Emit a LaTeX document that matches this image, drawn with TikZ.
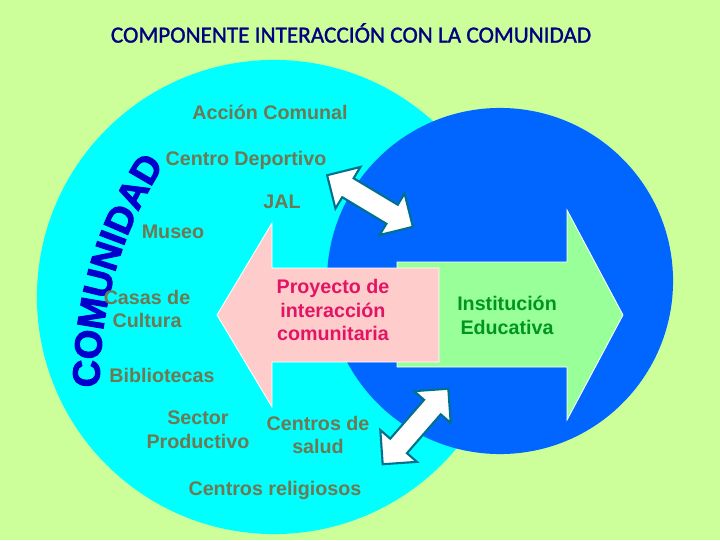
\documentclass[tikz,border=0pt]{standalone}
\usepackage{fontspec}
\setmainfont{Liberation Sans}
\newfontfamily\titlefont[FakeBold=1.2]{Carlito}
\newfontfamily\comfont[FakeBold=2.5]{Liberation Sans Bold}
\usetikzlibrary{positioning,shapes.arrows,decorations.text}
\definecolor{bgGreen}{RGB}{204,255,153}
\definecolor{commCyan}{RGB}{0,255,255}
\definecolor{schoolBlue}{RGB}{0,102,255}
\definecolor{instGreen}{RGB}{153,255,153}
\definecolor{projPink}{RGB}{255,204,204}
\definecolor{itemText}{RGB}{110,120,82}
\definecolor{projText}{RGB}{228,20,100}
\definecolor{instText}{RGB}{0,150,30}
\definecolor{comBlue}{RGB}{0,0,204}
\definecolor{titleBlue}{RGB}{0,0,128}
\definecolor{linkEdge}{RGB}{0,112,140}
\def\ux{0.025cm}
\tikzstyle{item}=[text=itemText,font=\bfseries\fontsize{14}{17}\selectfont,align=center,inner sep=1pt]
\tikzstyle{link}=[double arrow,draw=linkEdge,fill=white,line width=1.5pt,
  minimum height=2.5cm,text height=0.25cm,text depth=0.25cm,
  double arrow head extend=0.33cm,inner sep=0pt]
\newcommand{\newItem}[3]{\node[item](#1) at (#2){#3};}
\newcommand{\newLink}[3]{\node[link,rotate=#3](#1) at (#2){};}

\begin{document}
\begin{tikzpicture}[x=\ux,y=\ux,
  arrowbody/.style={draw=white,line width=0.6pt}
  ]
  \fill[bgGreen] (0,0) rectangle (720,540);
  \useasboundingbox (0,0) rectangle (720,540);
  % the two circles
  \node[circle,fill=commCyan,inner sep=0pt,minimum size=11.85cm](comunidad) at (274,243){};
  \node[circle,fill=schoolBlue,inner sep=0pt,minimum size=8.65cm](colegio) at (500,259){};
  % big arrows
  \filldraw[arrowbody,fill=instGreen] (397,173) -- (567,173) -- (567,120) -- (623,225)
    -- (567,330) -- (567,278) -- (397,278) -- cycle;
  \filldraw[arrowbody,fill=projPink] (439,178) -- (439,272) -- (272,272) -- (272,317)
    -- (217,225) -- (272,133) -- (272,178) -- cycle;
  \newLink{topLink}{370,339}{-31}
  \newLink{lowLink}{415.5,113.5}{49}
  % texts
  \node[text=titleBlue,font=\titlefont\fontsize{16.5}{20}\selectfont](title) at (351,507)
    {COMPONENTE INTERACCIÓN CON LA COMUNIDAD};
  \path[decorate,decoration={text along path,text align=center,text color=comBlue,
    text={|\comfont\fontsize{27}{27}\selectfont|COMUNIDAD}}]
    (99,138) .. controls (99,235) and (118,305) .. (172,388);
  \newItem{accion}{270,428}{Acción Comunal}
  \newItem{deporte}{246,380}{Centro Deportivo}
  \newItem{jal}{282,338}{JAL}
  \newItem{museo}{173,308}{Museo}
  \newItem{casas}{147,231}{Casas de\\Cultura}
  \newItem{biblio}{162,165}{Bibliotecas}
  \newItem{sector}{198,110}{Sector\\Productivo}
  \newItem{salud}{318,105}{Centros de\\salud}
  \newItem{religion}{275,50}{Centros religiosos}
  \node[item,text=projText,font=\bfseries\fontsize{14}{16.5}\selectfont](proyecto) at (333,230)
    {Proyecto de\\interacción\\comunitaria};
  \node[item,text=instText](institucion) at (507,225){Institución\\Educativa};
\end{tikzpicture}
\end{document}
